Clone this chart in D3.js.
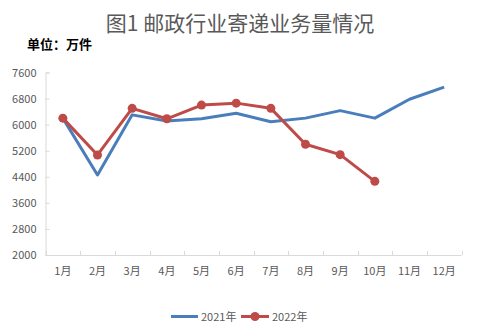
<!DOCTYPE html>
<html><head><meta charset="utf-8">
<script src="https://cdn.jsdelivr.net/npm/d3@7"></script>
<style>body{margin:0;background:#fff}svg{display:block}</style>
</head><body><svg id="c" width="480" height="336"></svg>
<script>
const months = ["1月","2月","3月","4月","5月","6月","7月","8月","9月","10月","11月","12月"];
const v2021 = [6200,4455,6300,6110,6180,6350,6090,6200,6430,6200,6780,7150];
const v2022 = [6200,5070,6500,6180,6600,6660,6500,5400,5080,4260];
const yTicks = [2000,2800,3600,4400,5200,6000,6800,7600];
const seriesNames = ["2021年","2022年"];

const font = "'Microsoft YaHei','Noto Sans CJK SC',sans-serif";
const svg = d3.select("#c");
const L=45.5, R=461.5, T=72.5, B=255;
const x = d3.scaleBand().domain(months).range([L,R]);
const y = d3.scaleLinear().domain([2000,7600]).range([B,T]);
const cx = m => x(m)+x.bandwidth()/2;

svg.append("text").attr("x",240).attr("y",31).attr("text-anchor","middle")
  .attr("font-family",font).attr("font-size",21).attr("fill","#595959").text("图1 邮政行业寄递业务量情况");
svg.append("text").attr("x",27).attr("y",49).attr("font-family",font).attr("font-size",13)
  .attr("font-weight","bold").attr("fill","#000").text("单位：万件");

// y axis
const ya = svg.append("g").attr("transform",`translate(${L},0)`)
  .call(d3.axisLeft(y).tickValues(yTicks).tickSize(-4).tickPadding(9).tickFormat(d3.format("d")));
ya.select(".domain").attr("stroke","#d9d9d9");
ya.selectAll(".tick line").attr("stroke","#d9d9d9");
ya.selectAll("text").attr("font-family",font).attr("font-size",11).attr("fill","#595959");

// x axis
const xa = svg.append("g").attr("transform",`translate(0,${B})`)
  .call(d3.axisBottom(x).tickSize(0).tickPadding(12));
xa.select(".domain").attr("stroke","#d9d9d9").attr("d",`M${L},0.5H${R}`);
xa.selectAll("text").attr("font-family",font).attr("font-size",11).attr("fill","#595959");
const edges = d3.range(months.length+1).map(i=>L+i*x.step());
svg.append("g").selectAll("line").data(edges).join("line")
  .attr("x1",d=>Math.round(d)+0.5).attr("x2",d=>Math.round(d)+0.5).attr("y1",B-4).attr("y2",B)
  .attr("stroke","#d9d9d9");

const line = d3.line().x((d,i)=>cx(months[i])).y(d=>y(d));
svg.append("path").datum(v2021).attr("d",line).attr("fill","none")
  .attr("stroke","#4a7ebb").attr("stroke-width",3).attr("stroke-linejoin","round");
svg.append("path").datum(v2022).attr("d",line).attr("fill","none")
  .attr("stroke","#be4b48").attr("stroke-width",3).attr("stroke-linejoin","round");
svg.append("g").selectAll("circle").data(v2022).join("circle")
  .attr("cx",(d,i)=>cx(months[i])).attr("cy",d=>y(d)).attr("r",4.5).attr("fill","#be4b48");

// legend
const lg = svg.append("g");
lg.append("line").attr("x1",171).attr("x2",198).attr("y1",316.5).attr("y2",316.5)
  .attr("stroke","#4a7ebb").attr("stroke-width",3);
lg.append("text").attr("x",201).attr("y",321).attr("font-family",font).attr("font-size",11)
  .attr("fill","#595959").text(seriesNames[0]);
lg.append("line").attr("x1",241).attr("x2",269).attr("y1",316.5).attr("y2",316.5)
  .attr("stroke","#be4b48").attr("stroke-width",3);
lg.append("circle").attr("cx",255).attr("cy",316.5).attr("r",4.5).attr("fill","#be4b48");
lg.append("text").attr("x",272).attr("y",321).attr("font-family",font).attr("font-size",11)
  .attr("fill","#595959").text(seriesNames[1]);
</script></body></html>
